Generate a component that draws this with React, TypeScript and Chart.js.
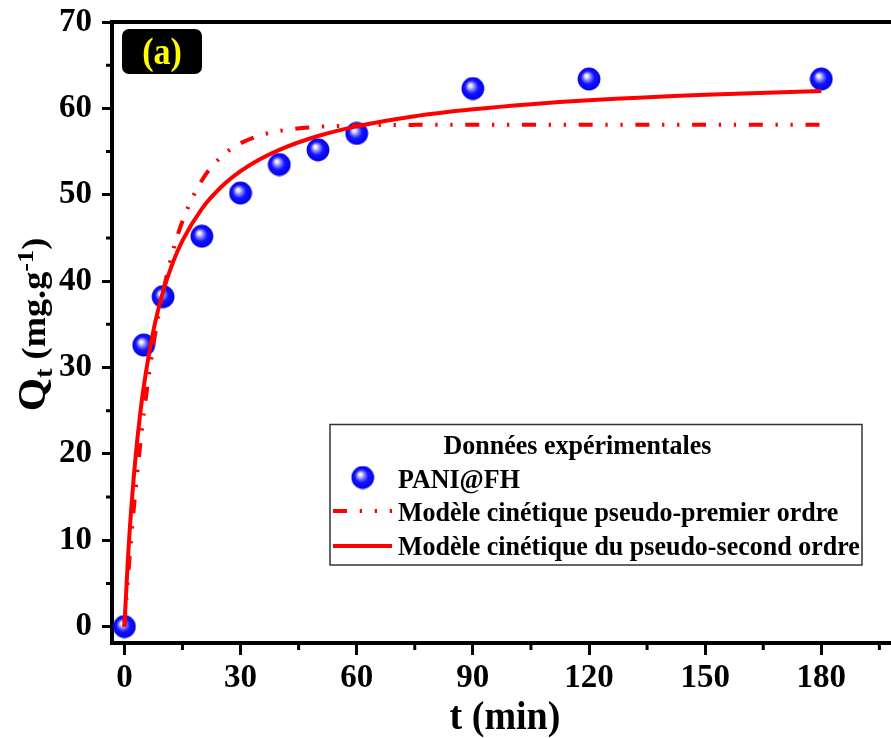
import React, { useEffect, useRef } from "react";
import { Chart, registerables } from "chart.js";

Chart.register(...registerables);

// Experimental data (PANI@FH)
const timePoints = [0, 5, 10, 20, 30, 40, 50, 60, 90, 120, 180];
const qtExperimental = [0, 32.6, 38.2, 45.2, 50.2, 53.5, 55.2, 57.1, 62.3, 63.4, 63.4];

// Model curves
const modelTimes = [0, 1, 2, 3, 4, 5, 7.5, 10, 12.5, 15, 20, 25, 30, 35, 40, 50, 60, 75, 90, 105, 120, 150, 180];
const qtPseudoFirst = [0, 6.05, 11.48, 16.33, 20.68, 24.58, 32.64, 38.76, 43.41, 46.94, 51.66, 54.39, 55.96, 56.86, 57.39, 57.86, 58.02, 58.09, 58.1, 58.1, 58.1, 58.1, 58.1];
const qtPseudoSecond = [0, 8.49, 15.0, 20.15, 24.32, 27.78, 34.26, 38.79, 42.13, 44.69, 48.37, 50.89, 52.72, 54.11, 55.2, 56.8, 57.92, 59.09, 59.89, 60.48, 60.93, 61.57, 62.0];

// Axis ticks
const xMajorTicks = [0, 30, 60, 90, 120, 150, 180];
const xMinorTicks = [15, 45, 75, 105, 135, 165, 195];
const yMajorTicks = [0, 10, 20, 30, 40, 50, 60, 70];
const yMinorTicks = [5, 15, 25, 35, 45, 55, 65];

// Texts
const panelLabel = "(a)";
const legendTitle = "Données expérimentales";
const legendSeries = "PANI@FH";
const legendPFO = "Modèle cinétique pseudo-premier ordre";
const legendPSO = "Modèle cinétique du pseudo-second ordre";
const xTitle = "t (min)";

const SERIF = '"Liberation Serif", "Times New Roman", serif';
const DASH = [14, 12.7, 2.3, 12.7, 2.3, 12.7];

function makeSphere(): HTMLCanvasElement {
  const s = 24;
  const c = document.createElement("canvas");
  c.width = s;
  c.height = s;
  const ctx = c.getContext("2d")!;
  const g = ctx.createRadialGradient(9, 8.5, 0, 12, 12, 11.5);
  g.addColorStop(0, "#ffffff");
  g.addColorStop(0.14, "#e8e8ff");
  g.addColorStop(0.34, "#8080ff");
  g.addColorStop(0.58, "#1414ff");
  g.addColorStop(1, "#0000ea");
  ctx.fillStyle = g;
  ctx.beginPath();
  ctx.arc(12, 12, 11.4, 0, Math.PI * 2);
  ctx.fill();
  return c;
}

function stretchedText(
  ctx: CanvasRenderingContext2D,
  s: string,
  x: number,
  y: number,
  size: number,
  align: CanvasTextAlign,
  sy: number,
  color = "#000"
) {
  ctx.save();
  ctx.translate(x, y);
  ctx.scale(1, sy);
  ctx.font = `bold ${size}px ${SERIF}`;
  ctx.textAlign = align;
  ctx.textBaseline = "alphabetic";
  ctx.fillStyle = color;
  ctx.fillText(s, 0, 0);
  ctx.restore();
}

export default function App() {
  const canvasRef = useRef<HTMLCanvasElement | null>(null);

  useEffect(() => {
    document.body.style.margin = "0";
    const canvas = canvasRef.current;
    if (!canvas) return;
    const sphere = makeSphere();

    const decorPlugin = {
      id: "decor",
      afterDraw(chart: any) {
        const ctx: CanvasRenderingContext2D = chart.ctx;
        const area = chart.chartArea;
        const xs = chart.scales.x;
        const ys = chart.scales.y;
        ctx.save();
        // top frame line
        ctx.strokeStyle = "#000";
        ctx.lineWidth = 4;
        ctx.beginPath();
        ctx.moveTo(area.left - 2, area.top);
        ctx.lineTo(area.right, area.top);
        ctx.stroke();
        // bottom-left corner fill
        ctx.fillStyle = "#000";
        ctx.fillRect(area.left - 2, area.bottom - 2, 4, 4);
        // minor ticks
        ctx.lineWidth = 3;
        ctx.beginPath();
        for (const v of yMinorTicks) {
          const py = ys.getPixelForValue(v);
          ctx.moveTo(area.left - 6, py);
          ctx.lineTo(area.left, py);
        }
        for (const v of xMinorTicks) {
          const px = xs.getPixelForValue(v);
          ctx.moveTo(px, area.bottom);
          ctx.lineTo(px, area.bottom + 7);
        }
        ctx.stroke();

        // panel label
        ctx.fillStyle = "#000";
        ctx.beginPath();
        (ctx as any).roundRect(122, 29, 80, 45, 7);
        ctx.fill();
        stretchedText(ctx, panelLabel, 162, 64, 34, "center", 1.12, "#ffff00");

        // x title
        stretchedText(ctx, xTitle, 505, 729, 38, "center", 1.05);

        // y title (rotated, with sub/superscripts)
        ctx.save();
        const cy = area.top + (area.bottom - area.top) / 2 - 8;
        ctx.translate(45, cy);
        ctx.rotate(-Math.PI / 2);
        ctx.scale(1.1, 1);
        ctx.textBaseline = "alphabetic";
        ctx.textAlign = "left";
        ctx.fillStyle = "#000";
        const parts: [string, number, number][] = [
          ["Q", 39, 0],
          ["t", 26, 7],
          [" (mg.g", 33, 0],
          ["-1", 24, -12],
          [")", 33, 0],
        ];
        let total = 0;
        for (const [s, sz] of parts) {
          ctx.font = `bold ${sz}px ${SERIF}`;
          total += ctx.measureText(s).width;
        }
        let u = -total / 2;
        for (const [s, sz, dv] of parts) {
          ctx.font = `bold ${sz}px ${SERIF}`;
          ctx.fillText(s, u, dv);
          u += ctx.measureText(s).width;
        }
        ctx.restore();

        // legend
        ctx.fillStyle = "#fff";
        ctx.fillRect(330, 424.5, 532, 140.5);
        ctx.strokeStyle = "#333";
        ctx.lineWidth = 1.5;
        ctx.strokeRect(330, 424.5, 532, 140.5);
        stretchedText(ctx, legendTitle, 577.5, 453.5, 26, "center", 1.08);
        ctx.drawImage(sphere, 362.7 - 12, 477.5 - 12);
        stretchedText(ctx, legendSeries, 398, 488, 26, "left", 1.08);
        ctx.strokeStyle = "#ff0000";
        ctx.lineWidth = 4;
        ctx.setLineDash(DASH);
        ctx.beginPath();
        ctx.moveTo(333, 511);
        ctx.lineTo(392, 511);
        ctx.stroke();
        ctx.setLineDash([]);
        stretchedText(ctx, legendPFO, 398, 521, 26, "left", 1.08);
        ctx.beginPath();
        ctx.moveTo(333, 546);
        ctx.lineTo(392, 546);
        ctx.stroke();
        stretchedText(ctx, legendPSO, 398, 555, 26, "left", 1.08);
        ctx.restore();
      },
    };

    const chart = new Chart(canvas, {
      type: "line",
      data: {
        datasets: [
          {
            label: legendPSO,
            data: modelTimes.map((t, i) => ({ x: t, y: qtPseudoSecond[i] })),
            borderColor: "#ff0000",
            borderWidth: 4,
            pointRadius: 0,
            cubicInterpolationMode: "monotone",
            fill: false,
          },
          {
            label: legendPFO,
            data: modelTimes.map((t, i) => ({ x: t, y: qtPseudoFirst[i] })),
            borderColor: "#ff0000",
            borderWidth: 4,
            borderDash: DASH,
            borderCapStyle: "butt",
            pointRadius: 0,
            cubicInterpolationMode: "monotone",
            fill: false,
          },
          {
            label: legendSeries,
            data: timePoints.map((t, i) => ({ x: t, y: qtExperimental[i] })),
            showLine: false,
            pointStyle: sphere as any,
            pointRadius: 11,
            pointHoverRadius: 11,
            borderWidth: 0,
            backgroundColor: "#0000ff",
          },
        ],
      },
      options: {
        responsive: false,
        animation: false,
        devicePixelRatio: 1,
        layout: { autoPadding: false, padding: { top: 22, right: 0, left: 0, bottom: 0 } },
        plugins: {
          legend: { display: false },
          tooltip: { enabled: false },
          title: { display: false },
        },
        scales: {
          x: {
            type: "linear",
            min: -3.2,
            max: 198,
            afterBuildTicks: (scale: any) => {
              scale.ticks = xMajorTicks.map((v) => ({ value: v }));
            },
            afterFit: (scale: any) => {
              scale.height = 95;
              scale.paddingLeft = 0;
              scale.paddingRight = 0;
            },
            ticks: {
              color: "#000",
              font: { family: SERIF, size: 33, weight: "bold" },
              padding: 4,
              maxRotation: 0,
              autoSkip: false,
            },
            grid: {
              display: true,
              drawOnChartArea: false,
              drawTicks: true,
              tickLength: 12,
              tickWidth: 3,
              tickColor: "#000",
            },
            border: { display: true, width: 4, color: "#000" },
          },
          y: {
            type: "linear",
            min: -1.9,
            max: 70,
            afterBuildTicks: (scale: any) => {
              scale.ticks = yMajorTicks.map((v) => ({ value: v }));
            },
            afterFit: (scale: any) => {
              scale.width = 112;
              scale.paddingTop = 0;
              scale.paddingBottom = 0;
            },
            ticks: {
              color: "#000",
              font: { family: SERIF, size: 33, weight: "bold" },
              padding: 10,
              autoSkip: false,
            },
            grid: {
              display: true,
              drawOnChartArea: false,
              drawTicks: true,
              tickLength: 10,
              tickWidth: 3,
              tickColor: "#000",
            },
            border: { display: true, width: 4, color: "#000" },
          },
        },
      },
      plugins: [decorPlugin],
    } as any);

    return () => chart.destroy();
  }, []);

  return (
    <div style={{ width: 891, height: 738, position: "relative", background: "#fff" }}>
      <canvas ref={canvasRef} width={891} height={738} style={{ display: "block" }} />
    </div>
  );
}
